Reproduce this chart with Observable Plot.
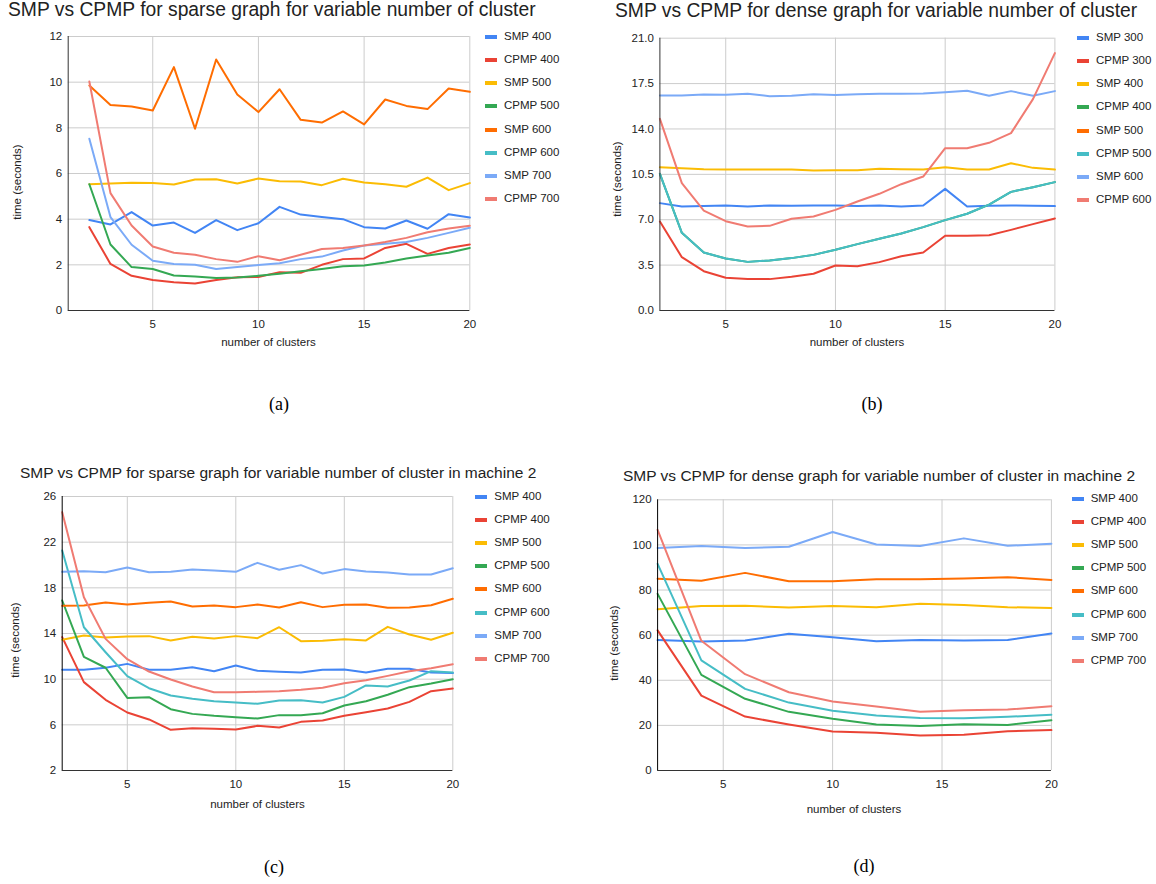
<!DOCTYPE html>
<html><head><meta charset="utf-8">
<script src="https://cdn.jsdelivr.net/npm/d3@7"></script>
<script src="https://cdn.jsdelivr.net/npm/@observablehq/plot@0.6"></script>
<style>
body{margin:0;background:#fff;}
#root{position:relative;width:1156px;height:884px;overflow:hidden;font-family:"Liberation Sans",Arial,sans-serif;color:#222;}
.abs{position:absolute;white-space:nowrap;line-height:1;}
.c{transform:translate(-50%,-50%);}
.yl{transform:translate(-50%,-50%) rotate(-90deg);}
.sw{position:absolute;height:4px;width:12px;}
svg{position:absolute;overflow:visible;}
</style></head><body><div id="root"></div><script>
// ---------- data ----------
const namesA = ["SMP 400","CPMP 400","SMP 500","CPMP 500","SMP 600","CPMP 600","SMP 700","CPMP 700"];
const namesB = ["SMP 300","CPMP 300","SMP 400","CPMP 400","SMP 500","CPMP 500","SMP 600","CPMP 600"];
const palette = ["#4285F4","#EA4335","#FBBC04","#34A853","#FF6D01","#46BDC6","#7BAAF7","#F07B72"];
const clusters = [2,3,4,5,6,7,8,9,10,11,12,13,14,15,16,17,18,19,20];
const clustersD = [2,4,6,8,10,12,14,16,18,20];

// (a) sparse graph
const aSMP400  = [3.96,3.77,4.31,3.72,3.85,3.40,3.96,3.52,3.82,4.54,4.20,4.10,4.00,3.65,3.59,3.94,3.58,4.22,4.07];
const aCPMP400 = [3.65,2.04,1.52,1.34,1.24,1.18,1.34,1.46,1.47,1.68,1.65,2.00,2.25,2.28,2.74,2.92,2.48,2.74,2.89];
const aSMP500  = [5.53,5.56,5.59,5.58,5.52,5.74,5.75,5.56,5.78,5.66,5.65,5.49,5.77,5.61,5.53,5.42,5.82,5.27,5.58];
const aCPMP500 = [5.53,2.89,1.90,1.82,1.53,1.49,1.42,1.45,1.52,1.61,1.72,1.82,1.94,1.97,2.10,2.28,2.41,2.53,2.74];
const aSMP600  = [9.85,9.00,8.93,8.76,10.66,7.96,10.99,9.46,8.69,9.69,8.35,8.23,8.72,8.15,9.24,8.96,8.82,9.72,9.58];
const aCPMP600 = [];
const aSMP700  = [7.52,4.09,2.88,2.18,2.04,2.00,1.82,1.90,1.99,2.07,2.25,2.36,2.63,2.85,2.92,3.00,3.18,3.40,3.62];
const aCPMP700 = [10.03,5.14,3.72,2.80,2.53,2.44,2.25,2.13,2.38,2.20,2.44,2.69,2.74,2.85,3.00,3.18,3.43,3.59,3.71];

// (b) dense graph
const bSMP300  = [8.28,8.02,8.05,8.10,8.02,8.10,8.07,8.10,8.10,8.05,8.10,8.02,8.10,9.38,8.02,8.07,8.10,8.07,8.05];
const bCPMP300 = [6.86,4.11,3.03,2.52,2.42,2.42,2.60,2.83,3.47,3.42,3.73,4.19,4.47,5.76,5.76,5.81,6.22,6.66,7.10];
const bSMP400  = [11.05,10.98,10.90,10.87,10.87,10.87,10.87,10.80,10.82,10.82,10.93,10.90,10.87,11.05,10.87,10.87,11.36,11.00,10.87];
const bCPMP400 = [10.54,5.99,4.47,4.01,3.75,3.86,4.04,4.29,4.68,5.12,5.53,5.94,6.43,6.97,7.46,8.17,9.15,9.51,9.90];
const bSMP500  = [];
const bCPMP500 = [10.54,5.99,4.47,4.01,3.75,3.86,4.04,4.29,4.68,5.12,5.53,5.94,6.43,6.97,7.46,8.17,9.15,9.51,9.90];
const bSMP600  = [16.58,16.58,16.66,16.63,16.71,16.53,16.56,16.68,16.61,16.68,16.71,16.71,16.74,16.84,16.94,16.56,16.92,16.56,16.92];
const bCPMP600 = [14.78,9.82,7.71,6.89,6.48,6.53,7.07,7.25,7.76,8.41,9.00,9.74,10.33,12.52,12.52,12.93,13.68,16.30,19.85];

// (c) sparse graph, machine 2
const cSMP400  = [10.82,10.82,11.00,11.34,10.82,10.82,11.05,10.70,11.20,10.73,10.64,10.58,10.82,10.85,10.58,10.91,10.91,10.58,10.53];
const cCPMP400 = [13.68,9.74,8.19,7.08,6.47,5.56,5.71,5.65,5.59,5.91,5.77,6.26,6.38,6.79,7.11,7.43,8.01,8.95,9.18];
const cSMP500  = [13.45,13.82,13.65,13.74,13.77,13.39,13.71,13.56,13.77,13.59,14.55,13.33,13.36,13.50,13.39,14.58,13.91,13.45,14.06];
const cCPMP500 = [16.89,11.96,11.00,8.36,8.42,7.37,6.96,6.79,6.67,6.55,6.85,6.85,7.02,7.69,8.07,8.63,9.30,9.62,10.00];
const cSMP600  = [16.42,16.45,16.72,16.54,16.69,16.80,16.36,16.45,16.31,16.54,16.28,16.74,16.31,16.51,16.54,16.25,16.28,16.48,17.04];
const cCPMP600 = [21.27,14.55,12.36,10.26,9.21,8.57,8.28,8.07,7.96,7.84,8.13,8.16,7.96,8.45,9.45,9.36,9.88,10.70,10.58];
const cSMP700  = [19.40,19.46,19.37,19.78,19.37,19.40,19.61,19.52,19.40,20.19,19.58,19.99,19.26,19.64,19.43,19.34,19.17,19.17,19.72];
const cCPMP700 = [24.63,17.18,13.53,11.75,10.67,9.97,9.36,8.86,8.86,8.89,8.95,9.07,9.24,9.65,9.91,10.29,10.70,10.96,11.31];

// (d) dense graph, machine 2
const dSMP400  = [57.8,57.2,57.6,60.6,59.1,57.3,57.9,57.6,57.8,60.7];
const dCPMP400 = [62.1,33.2,23.9,20.4,17.3,16.7,15.5,15.8,17.4,17.9];
const dSMP500  = [71.5,72.9,73.0,72.3,72.9,72.4,73.9,73.4,72.4,72.0];
const dCPMP500 = [78.3,42.4,31.8,26.0,22.9,20.4,19.7,20.5,20.2,22.3];
const dSMP600  = [85.0,84.1,87.6,83.9,83.9,84.8,84.8,85.1,85.7,84.5];
const dCPMP600 = [91.6,48.8,36.2,30.1,26.5,24.4,23.3,23.2,23.8,24.7];
const dSMP700  = [98.6,99.5,98.6,99.2,105.7,100.2,99.5,102.9,99.6,100.5];
const dCPMP700 = [106.7,57.5,42.7,34.7,30.6,28.4,26.0,26.7,27.0,28.5];

const xTicks = [5,10,15,20];
const yTicksA = [0,2,4,6,8,10,12];
const yTicksB = [0,3.5,7,10.5,14,17.5,21];
const yTicksC = [2,6,10,14,18,22,26];
const yTicksD = [0,20,40,60,80,100,120];

const titleA = "SMP vs CPMP for sparse graph for variable number of cluster";
const titleB = "SMP vs CPMP for dense graph for variable number of cluster";
const titleC = "SMP vs CPMP for sparse graph for variable number of cluster in machine 2";
const titleD = "SMP vs CPMP for dense graph for variable number of cluster in machine 2";
const xLabel = "number of clusters";
const yLabel = "time (seconds)";

// ---------- drawing ----------
const root = document.getElementById("root");
function addText(txt, css, cls) {
  const d = document.createElement("div");
  d.className = "abs " + (cls || "");
  d.textContent = txt;
  Object.assign(d.style, css);
  root.appendChild(d);
  return d;
}
function rowsFrom(xs, names, vals) {
  const rows = [];
  names.forEach((n, i) => vals[i].forEach((v, j) => rows.push({x: xs[j], y: v, series: n})));
  return rows;
}
function panel(p) {
  const rows = rowsFrom(p.xs, p.names, p.vals);
  const svg = Plot.plot({
    width: p.w, height: p.h,
    marginLeft: p.ml, marginRight: p.mr, marginTop: p.mt, marginBottom: p.mb,
    style: {fontFamily: '"Liberation Sans", Arial, sans-serif', fontSize: "11.5px", color: "#222", background: "transparent"},
    x: {domain: p.xDomain},
    y: {domain: [p.yTicks[0], p.yTicks[p.yTicks.length - 1]]},
    color: {domain: p.names, range: palette},
    marks: [
      Plot.gridX(xTicks, {stroke: "#cccccc", strokeOpacity: 1}),
      Plot.gridY(p.yTicks, {stroke: "#cccccc", strokeOpacity: 1}),
      Plot.axisX(xTicks, {tickSize: 0, tickPadding: 9, label: null, fill: "#222"}),
      Plot.axisY(p.yTicks, {tickSize: 0, tickPadding: 6, label: null, tickFormat: p.fmt, fill: "#222"}),
      Plot.line(rows, {x: "x", y: "y", z: "series", stroke: "series", strokeWidth: 2}),
      Plot.ruleY([p.yTicks[0]], {stroke: "#333"}),
      Plot.ruleX([p.xDomain[0]], {stroke: p.axisColor || "#333"})
    ]
  });
  svg.style.left = p.left + "px";
  svg.style.top = p.top + "px";
  root.appendChild(svg);

  addText(p.title, {left: p.titleX + "px", top: p.titleY + "px", fontSize: p.titleSize + "px", color: "#222"});
  addText(yLabel, {left: p.ylX + "px", top: p.ylY + "px", fontSize: "11.5px"}, "yl");
  addText(xLabel, {left: p.xlX + "px", top: p.xlY + "px", fontSize: "11.5px"}, "c");
  addText(p.caption, {left: p.capX + "px", top: p.capY + "px", fontSize: "18px", fontFamily: '"Liberation Serif","Times New Roman",serif', color: "#000"}, "c");
  p.names.forEach((n, i) => {
    const y = p.legY + i * p.legDy;
    const s = document.createElement("div");
    s.className = "sw";
    Object.assign(s.style, {left: p.swX + "px", top: (y - 2) + "px", background: palette[i]});
    root.appendChild(s);
    addText(n, {left: p.txX + "px", top: (y - 6) + "px", fontSize: "11.5px"});
  });
}

panel({left: 0, top: 0, w: 480, h: 330, ml: 67.7, mr: 10.7, mt: 36, mb: 20,
  xDomain: [1, 20], xs: clusters, yTicks: yTicksA, fmt: d3.format("d"),
  names: namesA, vals: [aSMP400, aCPMP400, aSMP500, aCPMP500, aSMP600, aCPMP600, aSMP700, aCPMP700],
  title: titleA, titleX: 8, titleY: 0, titleSize: 19.3,
  ylX: 17.7, ylY: 182, xlX: 268.5, xlY: 343, caption: "(a)", capX: 279, capY: 404,
  swX: 485, txX: 504, legY: 36.7, legDy: 23.2});

panel({left: 580, top: 0, w: 576, h: 330, ml: 79.4, mr: 101.6, mt: 37.7, mb: 20,
  xDomain: [2, 20], xs: clusters, yTicks: yTicksB, fmt: d3.format(".1f"),
  names: namesB, vals: [bSMP300, bCPMP300, bSMP400, bCPMP400, bSMP500, bCPMP500, bSMP600, bCPMP600],
  title: titleB, titleX: 615, titleY: 1.2, titleSize: 19.3,
  ylX: 618, ylY: 179, xlX: 857, xlY: 343, caption: "(b)", capX: 872, capY: 404,
  swX: 1077, txX: 1096, legY: 37.7, legDy: 23.2});

panel({left: 0, top: 460, w: 470, h: 330, ml: 61.7, mr: 17.7, mt: 36, mb: 20,
  xDomain: [2, 20], xs: clusters, yTicks: yTicksC, fmt: d3.format("d"), axisColor: "#000",
  names: namesA, vals: [cSMP400, cCPMP400, cSMP500, cCPMP500, cSMP600, cCPMP600, cSMP700, cCPMP700],
  title: titleC, titleX: 20, titleY: 465.2, titleSize: 15.5,
  ylX: 15.7, ylY: 640, xlX: 257.5, xlY: 805, caption: "(c)", capX: 274, capY: 867,
  swX: 475, txX: 494.3, legY: 496.5, legDy: 23.2});

panel({left: 590, top: 460, w: 566, h: 330, ml: 67.1, mr: 105.1, mt: 39.3, mb: 20,
  xDomain: [2, 20], xs: clustersD, yTicks: yTicksD, fmt: d3.format("d"), axisColor: "#000",
  names: namesA, vals: [dSMP400, dCPMP400, dSMP500, dCPMP500, dSMP600, dCPMP600, dSMP700, dCPMP700],
  title: titleD, titleX: 623, titleY: 467.9, titleSize: 15.5,
  ylX: 615.4, ylY: 643, xlX: 854, xlY: 810, caption: "(d)", capX: 864, capY: 866,
  swX: 1072, txX: 1090.7, legY: 498.5, legDy: 23.2});
</script></body></html>
